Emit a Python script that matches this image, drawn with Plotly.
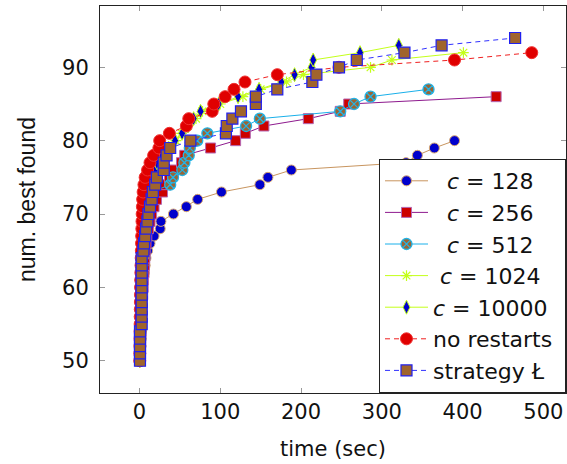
import plotly.graph_objects as go

# time (sec) at which each new best was found, and the running count of bests
c128_t = [0.5, 0.8, 1, 1.2, 1.5, 1.8, 2, 2.5, 3, 3.5, 4, 5, 6, 7, 8, 10, 13, 18,
          25.6, 26.5, 42, 58, 72, 101.5, 149, 159, 188, 330, 344, 365, 390]
c128_n = list(range(50, 81))

c256_t = [0.8, 1, 1.3, 1.5, 2, 2.3, 2.6, 3, 3.5, 4, 4.5, 5, 5.5, 6, 6.5, 7, 8, 9,
          11, 13, 15, 18, 21, 28.5, 32, 37, 43, 52, 56, 88, 119, 131, 154, 209,
          248.5, 259, 441.5]
c256_n = list(range(50, 87))

c512_t = [0.5, 0.7, 0.9, 1.1, 1.3, 1.5, 1.7, 1.9, 2.1, 2.3, 2.5, 2.7, 3, 3.3,
          3.6, 4, 4.5, 5, 6, 7, 8.5, 10, 12, 15, 38, 41.5, 53, 55.6, 61, 62.3,
          71.5, 84, 132, 149, 248.5, 265.6, 286, 357.8]
c512_n = list(range(50, 88))

c1024_t = [0.5, 0.7, 0.9, 1.1, 1.3, 1.5, 1.8, 2, 2.3, 2.6, 3, 3.3, 3.6, 4, 4.5,
           5, 5.5, 6, 7, 8, 9, 10.5, 12, 14, 16, 19, 22, 26, 32, 38, 45, 52, 60,
           70, 78, 100, 128, 150, 182, 203, 286, 312.5, 401]
c1024_n = list(range(50, 93))

c10000_t = [0.5, 0.7, 0.9, 1.1, 1.3, 1.5, 1.7, 2, 2.2, 2.5, 2.8, 3.1, 3.5, 3.9,
            4.3, 4.8, 5.3, 6, 6.8, 7.6, 8.6, 9.8, 11, 12.5, 14.5, 17, 19, 21.5,
            28, 36, 44, 52.7, 60, 67, 75.6, 98, 122, 148, 175.6, 192, 213, 215,
            273, 321]
c10000_n = list(range(50, 94))

norestart_t = [0.3, 0.4, 0.5, 0.6, 0.7, 0.8, 0.9, 1, 1.1, 1.2, 1.3, 1.5, 1.7,
               1.9, 2.1, 2.3, 2.5, 2.7, 2.9, 3.1, 3.3, 3.6, 3.9, 4.5, 5.5, 7,
               10, 13, 17.5, 24, 25, 37, 58, 61, 90, 92, 106, 117, 130.6, 170.6,
               247, 390, 485.6]
norestart_n = list(range(50, 93))

strategy_t = [0.6, 0.6, 0.6, 0.6, 0.6, 2.7, 2.7, 2.7, 2.7, 2.7, 2.7, 2.7, 2.7,
              2.7, 2.7, 4.8, 5.6, 7, 8.1, 9.8, 11, 13, 15, 16.5, 19.4, 21.5, 30,
              30, 33.5, 38, 63, 107, 108, 115, 125.6, 144, 144, 170.6, 214, 219,
              247, 269, 328, 374, 465]
strategy_n = list(range(50, 95))

x_ticks = [0, 100, 200, 300, 400, 500]
y_ticks = [50, 60, 70, 80, 90]

NB = "\u00a0"
TXT = "DejaVu Sans"

series = [
    dict(name=NB * 2 + "<i>c</i> = 128", t=c128_t, n=c128_n,
         line=dict(color="#c8955f", width=1),
         marker=dict(symbol="circle", size=10, color="#0000cc",
                     line=dict(color="#d9a86f", width=1))),
    dict(name=NB * 2 + "<i>c</i> = 256", t=c256_t, n=c256_n,
         line=dict(color="#8e1a8e", width=1),
         marker=dict(symbol="square", size=10, color="#cc0000",
                     line=dict(color="#b468b4", width=1))),
    dict(name=NB * 2 + "<i>c</i> = 512", t=c512_t, n=c512_n,
         line=dict(color="#1ab0ea", width=1),
         marker=dict(symbol="circle-x", size=11, color="#9a6535",
                     line=dict(color="#22b4e6", width=1.3))),
    dict(name=NB + "<i>c</i> = 1024", t=c1024_t, n=c1024_n,
         line=dict(color="#c4ff1a", width=1),
         marker=dict(symbol="asterisk-open", size=9, color="#c4ff1a",
                     line=dict(color="#b8f000", width=1.2))),
    dict(name="<i>c</i> = 10000", t=c10000_t, n=c10000_n,
         line=dict(color="#c4ff1a", width=1),
         marker=dict(symbol="diamond-tall", size=10, color="#0000cc",
                     line=dict(color="#c4ff1a", width=1))),
    dict(name="no restarts" + NB, t=norestart_t, n=norestart_n,
         line=dict(color="#f02020", width=1, dash="5px,4px"),
         marker=dict(symbol="circle", size=12, color="#e00000",
                     line=dict(color="#f03030", width=1))),
    dict(name="strategy Ł", t=strategy_t, n=strategy_n,
         line=dict(color="#3030ff", width=1, dash="5px,4px"),
         marker=dict(symbol="square", size=11, color="#a0642c",
                     line=dict(color="#2020f0", width=1.2))),
]

fig = go.Figure()
for i, s in enumerate(series):
    fig.add_trace(go.Scatter(
        x=s["t"], y=s["n"], name=s["name"], mode="lines+markers",
        line=s["line"], marker=s["marker"], legendgroup=f"g{i}",
    ))

axis_common = dict(
    showgrid=False, zeroline=False, showline=True, linecolor="#222",
    linewidth=1, mirror="ticks", ticks="inside", ticklen=5, tickwidth=1,
    tickcolor="#999", tickfont=dict(family=TXT, size=21, color="#111"),
)

fig.update_layout(
    width=567, height=464,
    margin=dict(l=100, r=1, t=6, b=71),
    paper_bgcolor="white", plot_bgcolor="white",
    xaxis=dict(axis_common, range=[-48.9, 528], tickvals=x_ticks,
               title=dict(text="time (sec)", font=dict(family=TXT, size=21, color="#111"),
                          standoff=18)),
    yaxis=dict(axis_common, range=[45.6, 98.36], tickvals=y_ticks,
               ticklabelstandoff=6,
               title=dict(text="num. best found",
                          font=dict(family="Liberation Sans", size=23, color="#111"),
                          standoff=20)),
    showlegend=True,
    legend=dict(x=1, y=0, xanchor="right", yanchor="bottom",
                bgcolor="white", bordercolor="#222", borderwidth=1,
                font=dict(family=TXT, size=22, color="#111"),
                traceorder="grouped", tracegroupgap=0, itemwidth=43),
)

fig.write_html("out.html")
